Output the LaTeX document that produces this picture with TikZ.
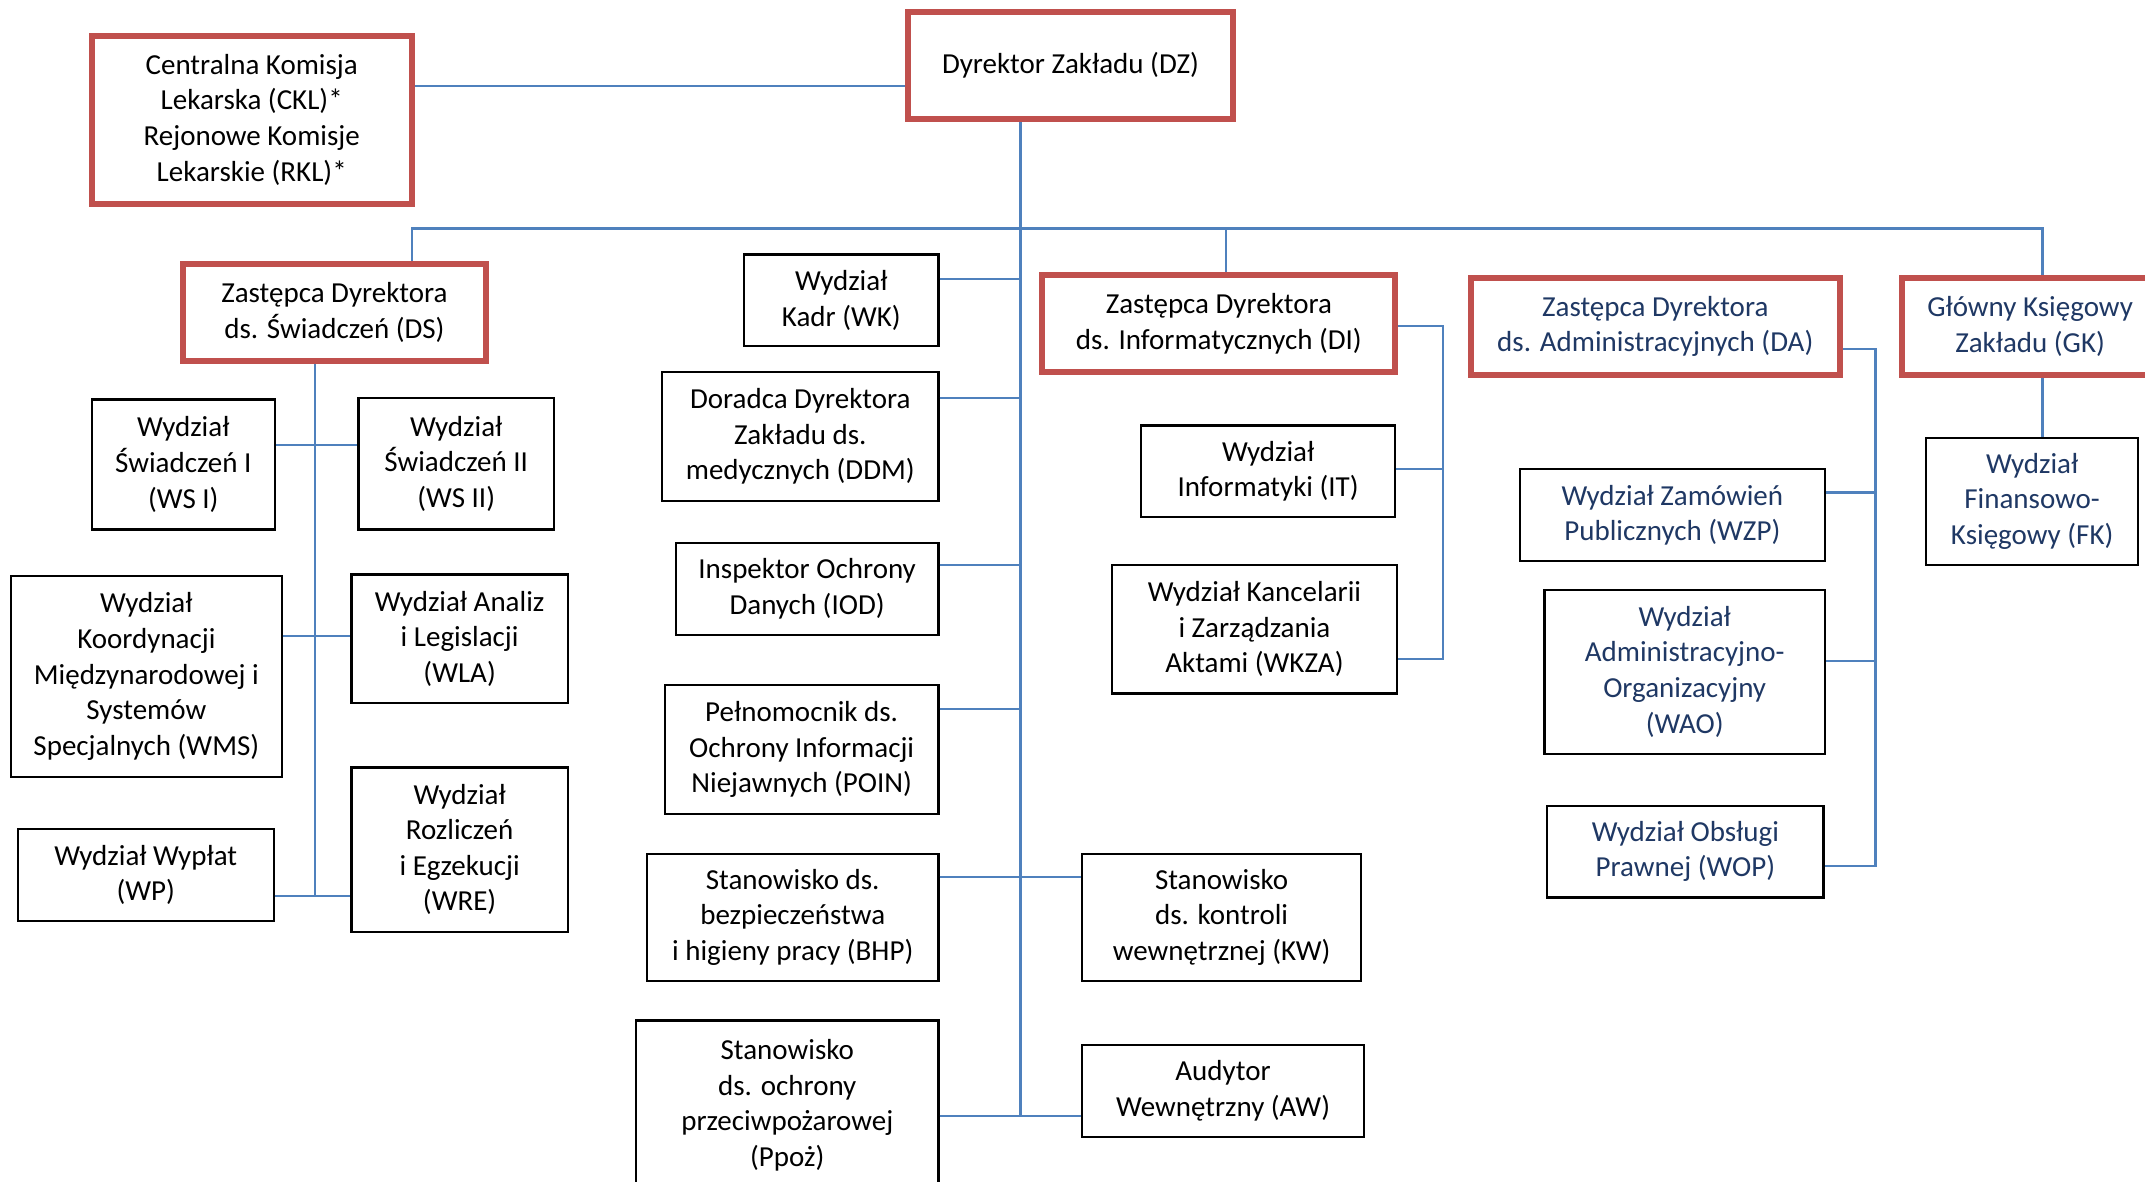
\documentclass[tikz,border=0pt]{standalone}
\usepackage{fontspec}
\setmainfont{Carlito}
\definecolor{redb}{RGB}{192,80,77}
\definecolor{blueline}{RGB}{79,129,189}
\definecolor{navy}{RGB}{31,56,100}
\newcommand{\boxnode}[6]{\node[#1, minimum width={(#4-#2)*0.5pt}, minimum height={(#5-#3)*0.5pt}] (#6) at ({(#2+#4)/2},{(#3+#5)/2})}
\begin{document}
\begin{tikzpicture}[x=0.5pt,y=-0.5pt,
  box/.style={draw=black, line width=0.8pt, align=center, inner sep=0pt, font=\fontsize{10.6pt}{13pt}\selectfont},
  redbox/.style={box, draw=redb, line width=2.2pt},
  navytext/.style={text=navy},
  conn/.style={draw=blueline, line width=0.8pt}]
\useasboundingbox (0,0) rectangle (1568,864);
\clip (0,0) rectangle (1568,864);
\fill[white] (0,0) rectangle (1568,864);
% top level
\boxnode{redbox}{664}{9}{901}{87}{dz} {Dyrektor Zakładu (DZ)};
\boxnode{redbox}{67}{26}{301}{149}{ckl} {Centralna Komisja\\Lekarska (CKL)*\\Rejonowe Komisje\\Lekarskie (RKL)*};
\boxnode{redbox}{134}{193}{355}{264}{ds} {Zastępca Dyrektora\\ds. Świadczeń (DS)};
\boxnode{redbox}{762}{201}{1020}{272}{di} {Zastępca Dyrektora\\ds. Informatycznych (DI)};
\boxnode{redbox,navytext}{1075}{203}{1345}{274}{da} {Zastępca Dyrektora\\ds. Administracyjnych (DA)};
\boxnode{redbox,navytext}{1390}{203}{1578}{274}{gk} {Główny Księgowy\\Zakładu (GK)};
% DS subtree
\boxnode{box}{67}{292}{201}{387}{ws1} {Wydział\\Świadczeń I\\(WS I)};
\boxnode{box}{262}{291}{405}{387}{ws2} {Wydział\\Świadczeń II\\(WS II)};
\boxnode{box}{8}{421}{206}{568}{wms} {Wydział\\Koordynacji\\Międzynarodowej i\\Systemów\\Specjalnych (WMS)};
\boxnode{box}{257}{420}{415}{514}{wla} {Wydział Analiz\\i Legislacji\\(WLA)};
\boxnode{box}{13}{606}{200}{673}{wp} {Wydział Wypłat\\(WP)};
\boxnode{box}{257}{561}{415}{681}{wre} {Wydział\\Rozliczeń\\i Egzekucji\\(WRE)};
% central column
\boxnode{box}{544}{186}{686}{253}{wk} {Wydział\\Kadr (WK)};
\boxnode{box}{484}{272}{686}{366}{ddm} {Doradca Dyrektora\\Zakładu ds.\\medycznych (DDM)};
\boxnode{box}{494}{397}{686}{464}{iod} {Inspektor Ochrony\\Danych (IOD)};
\boxnode{box}{486}{501}{686}{595}{poin} {Pełnomocnik ds.\\Ochrony Informacji\\Niejawnych (POIN)};
\boxnode{box}{473}{624}{686}{717}{bhp} {Stanowisko ds.\\bezpieczeństwa\\i higieny pracy (BHP)};
\boxnode{box}{791}{624}{995}{717}{kw} {Stanowisko\\ds. kontroli\\wewnętrznej (KW)};
\boxnode{box}{465}{746}{686}{870}{ppoz} {Stanowisko\\ds. ochrony\\przeciwpożarowej\\(Ppoż)};
\boxnode{box}{791}{764}{997}{831}{aw} {Audytor\\Wewnętrzny (AW)};
% DI subtree
\boxnode{box}{834}{311}{1020}{378}{it} {Wydział\\Informatyki (IT)};
\boxnode{box}{813}{413}{1021}{507}{wkza} {Wydział Kancelarii\\i Zarządzania\\Aktami (WKZA)};
% DA subtree
\boxnode{box,navytext}{1111}{343}{1334}{410}{wzp} {Wydział Zamówień\\Publicznych (WZP)};
\boxnode{box,navytext}{1129}{431}{1334}{551}{wao} {Wydział\\Administracyjno-\\Organizacyjny\\(WAO)};
\boxnode{box,navytext}{1131}{589}{1333}{656}{wop} {Wydział Obsługi\\Prawnej (WOP)};
% GK subtree
\boxnode{box,navytext}{1408}{320}{1563}{413}{fk} {Wydział\\Finansowo-\\Księgowy (FK)};

% connectors
\coordinate (trunkend) at (746,816);
\coordinate (busl) at (301,167);
\coordinate (busr) at (1493,167);
\coordinate (dstrunk) at (230,655);
\draw[conn] (ckl.east |- 0,63) -- (dz.west |- 0,63);
\draw[conn] (dz.south -| trunkend) -- (trunkend);
\draw[conn] (ds.north -| busl) -- (busl) -- (busr) -- (gk.north -| busr);
\draw[conn] (896,167) -- (di.north -| 896,0);
\draw[conn] (gk.south -| busr) -- (fk.north -| busr);
% central branches
\draw[conn] (wk.east |- 0,204) -- (746,204);
\draw[conn] (ddm.east |- 0,291) -- (746,291);
\draw[conn] (iod.east |- 0,413) -- (746,413);
\draw[conn] (poin.east |- 0,518) -- (746,518);
\draw[conn] (bhp.east |- 0,641) -- (kw.west |- 0,641);
\draw[conn] (ppoz.east |- trunkend) -- (aw.west |- trunkend);
% DS branches
\draw[conn] (ds.south -| dstrunk) -- (dstrunk);
\draw[conn] (ws1.east |- 0,325) -- (ws2.west |- 0,325);
\draw[conn] (wms.east |- 0,465) -- (wla.west |- 0,465);
\draw[conn] (wp.east |- dstrunk) -- (wre.west |- dstrunk);
% DI branches
\draw[conn] (di.east |- 0,238) -- (1055,238) -- (1055,482) -- (wkza.east |- 0,482);
\draw[conn] (it.east |- 0,343) -- (1055,343);
% DA branches
\draw[conn] (da.east |- 0,255) -- (1371,255) -- (1371,633) -- (wop.east |- 0,633);
\draw[conn] (wzp.east |- 0,360) -- (1371,360);
\draw[conn] (wao.east |- 0,483) -- (1371,483);
\end{tikzpicture}
\end{document}
